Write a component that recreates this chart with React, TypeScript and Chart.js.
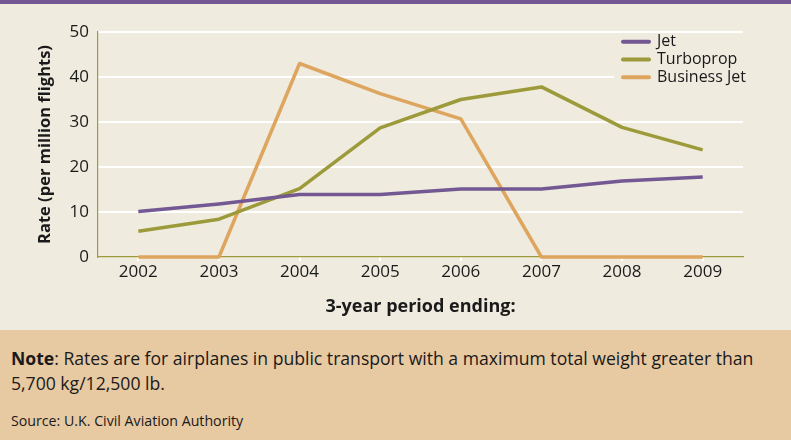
import React, { useEffect, useRef } from "react";
import { Chart, registerables } from "chart.js";

Chart.register(...registerables);

const years = ["2002", "2003", "2004", "2005", "2006", "2007", "2008", "2009"];
const jet = [10.1, 11.8, 13.9, 13.9, 15.1, 15.1, 16.9, 17.8];
const turboprop = [5.7, 8.4, 15.2, 28.7, 35.0, 37.8, 28.8, 23.8];
const businessJet = [0, 0, 43.0, 36.3, 30.7, 0, 0, 0];
const yTicks = [0, 10, 20, 30, 40, 50];

const FONT = "'Open Sans', 'Noto Sans', sans-serif";
const PURPLE = "#735893";
const OLIVE = "#9c9a3a";
const ORANGE = "#dea55f";
const BG = "#efebdf";

const legendPlugin = {
  id: "insideLegend",
  afterDraw(chart: any) {
    const ctx = chart.ctx;
    ctx.save();
    ctx.fillStyle = BG;
    ctx.fillRect(614, 30, 130, 56);
    const rows = [37.7, 55.5, 73.3];
    chart.data.datasets.forEach((ds: any, i: number) => {
      const y = rows[i];
      ctx.strokeStyle = ds.borderColor;
      ctx.lineWidth = 4;
      ctx.lineCap = "round";
      ctx.beginPath();
      ctx.moveTo(623, y);
      ctx.lineTo(649, y);
      ctx.stroke();
      ctx.fillStyle = "#1a1a1a";
      ctx.font = `16px ${FONT}`;
      ctx.textBaseline = "middle";
      ctx.textAlign = "left";
      ctx.fillText(ds.label, 657, y);
    });
    ctx.restore();
  },
};

export default function App() {
  const ref = useRef<HTMLCanvasElement | null>(null);

  useEffect(() => {
    document.body.style.margin = "0";
    if (!ref.current) return;
    const chart = new Chart(ref.current, {
      type: "line",
      data: {
        labels: years,
        datasets: [
          { label: "Jet", data: jet, borderColor: PURPLE, backgroundColor: PURPLE },
          { label: "Turboprop", data: turboprop, borderColor: OLIVE, backgroundColor: OLIVE },
          { label: "Business Jet", data: businessJet, borderColor: ORANGE, backgroundColor: ORANGE },
        ],
      },
      options: {
        animation: false,
        responsive: false,
        maintainAspectRatio: false,
        layout: { padding: { top: 28, right: 48, left: 0, bottom: 0 } },
        elements: {
          line: { borderWidth: 3.5, tension: 0, borderJoinStyle: "round", fill: false },
          point: { radius: 0, hoverRadius: 0 },
        },
        datasets: { line: { clip: false } } as any,
        plugins: {
          legend: { display: false },
          tooltip: { enabled: false },
        },
        scales: {
          x: {
            offset: true,
            afterFit: (s: any) => {
              s.height = 73;
            },
            grid: {
              display: true,
              drawOnChartArea: false,
              drawTicks: true,
              tickLength: 4,
              color: "#ffffff",
              lineWidth: 2,
            },
            border: { display: true, color: OLIVE, width: 1.2 },
            ticks: {
              color: "#1a1a1a",
              font: { family: FONT, size: 17 },
              padding: 1,
              maxRotation: 0,
            },
            title: {
              display: true,
              text: "3-year period ending:",
              color: "#1a1a1a",
              font: { family: FONT, size: 18, weight: "bold" },
              padding: { top: 0, bottom: 12 },
            },
          },
          y: {
            min: 0,
            max: 50,
            afterFit: (s: any) => {
              s.width = 98;
            },
            afterBuildTicks: (s: any) => {
              s.ticks = yTicks.map((v) => ({ value: v }));
            },
            grid: {
              drawTicks: false,
              color: (c: any) => (c.tick && c.tick.value === 0 ? "rgba(0,0,0,0)" : "#ffffff"),
              lineWidth: 2,
            },
            border: { display: true, color: OLIVE, width: 1.2 },
            ticks: {
              color: "#1a1a1a",
              font: { family: FONT, size: 17 },
              padding: 9,
            },
            title: {
              display: true,
              text: "Rate (per million flights)",
              color: "#1a1a1a",
              font: { family: FONT, size: 16.5, weight: "bold" },
              padding: { top: 35, bottom: 0 },
            },
          },
        },
      },
      plugins: [legendPlugin],
    });
    return () => chart.destroy();
  }, []);

  return (
    <div style={{ width: 791, height: 440, position: "relative", overflow: "hidden", fontFamily: FONT }}>
      <div style={{ height: 4, background: PURPLE }} />
      <div style={{ height: 326, background: BG }}>
        <canvas ref={ref} width={791} height={326} style={{ display: "block" }} />
      </div>
      <div
        style={{
          height: 110,
          background: "#e7c9a2",
          color: "#1a1a1a",
          position: "relative",
        }}
      >
        <div
          style={{
            position: "absolute",
            left: 11,
            top: 15.5,
            fontSize: 17.6,
            lineHeight: "25px",
            whiteSpace: "nowrap",
          }}
        >
          <b>Note</b>: Rates are for airplanes in public transport with a maximum total weight greater than
          <br />
          5,700 kg/12,500 lb.
        </div>
        <div
          style={{
            position: "absolute",
            left: 11,
            top: 82,
            fontSize: 14.2,
            lineHeight: "18px",
            whiteSpace: "nowrap",
          }}
        >
          Source: U.K. Civil Aviation Authority
        </div>
      </div>
    </div>
  );
}
